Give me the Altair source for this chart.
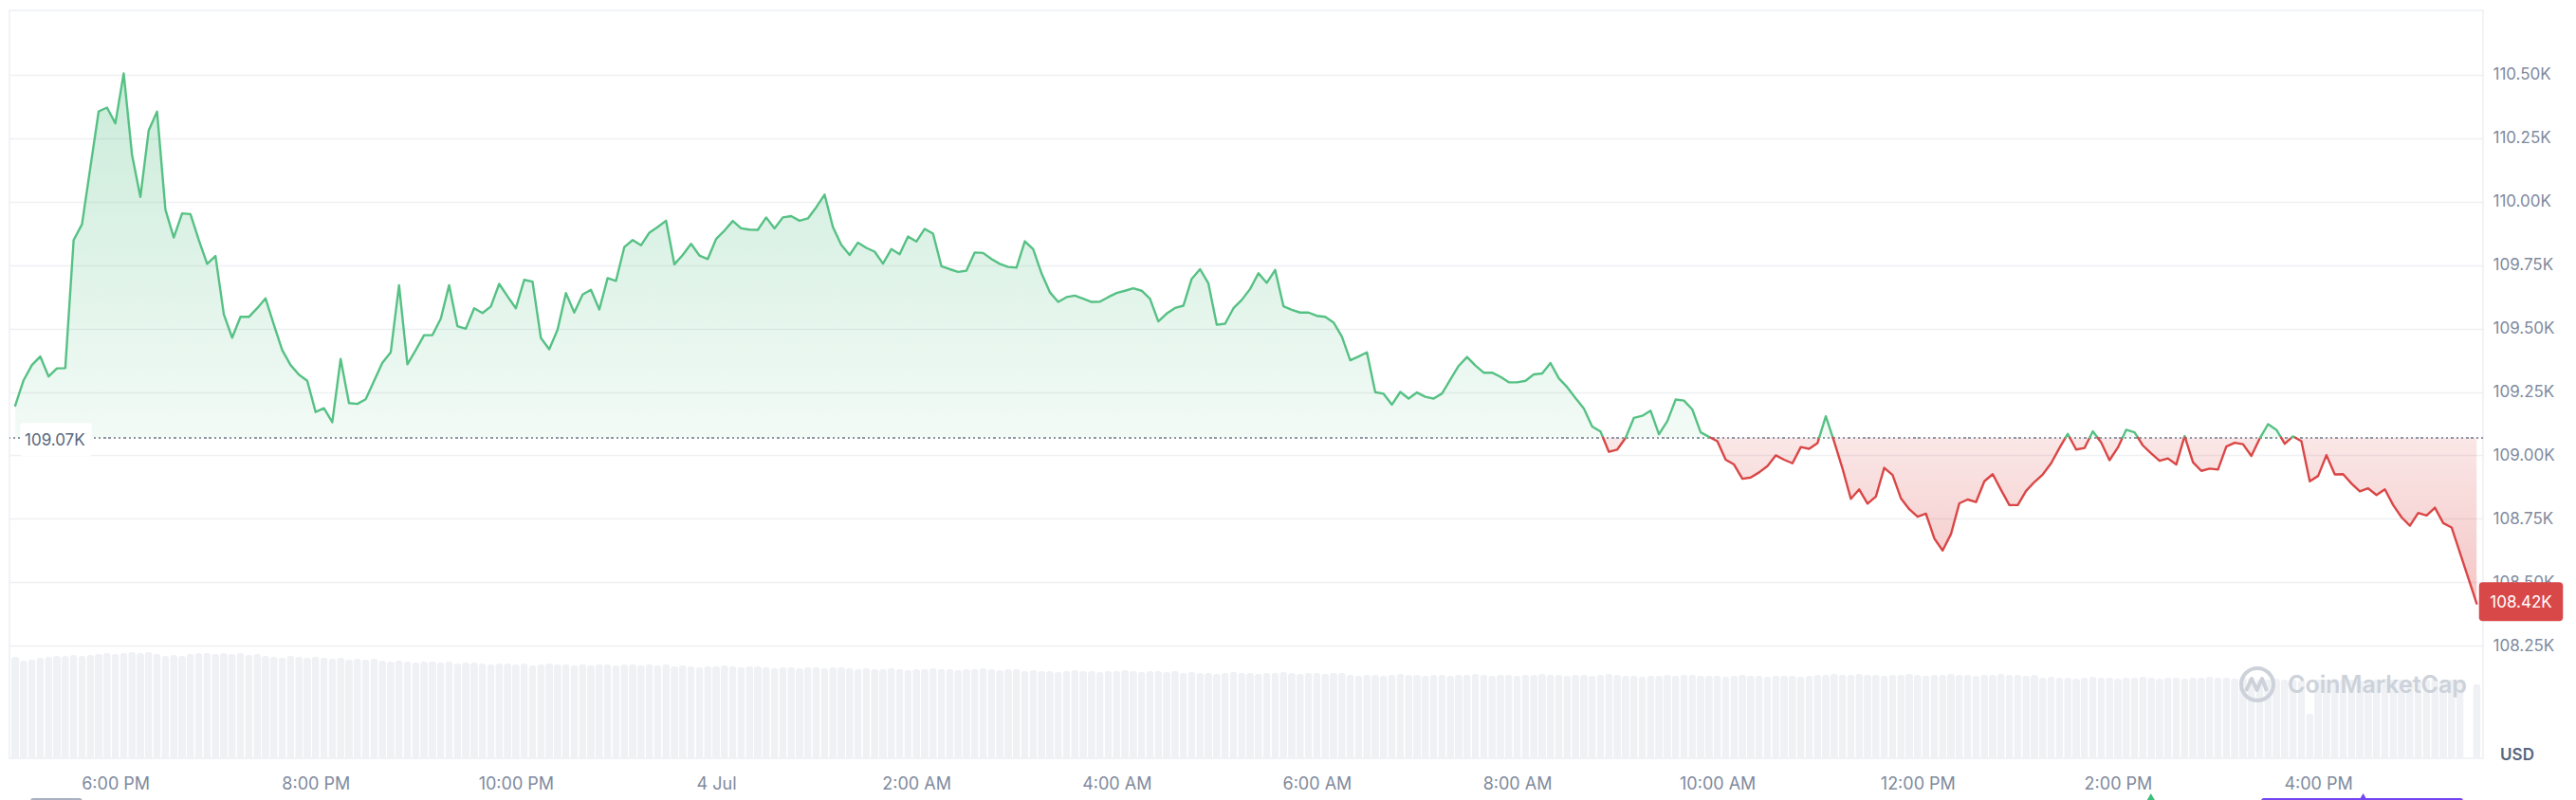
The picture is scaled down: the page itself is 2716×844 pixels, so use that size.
import altair as alt
import pandas as pd

# ---------------- data ----------------
START_HOUR = 17.0          # 5:00 PM, 3 Jul (hours since 3 Jul 00:00)
STEP_MIN = 5               # one sample every 5 minutes
BASELINE_K = 109.07        # reference (open) price, thousands USD
LAST_LABEL = "108.42K"

price_k = [
    109.196, 109.296, 109.356, 109.390, 109.311, 109.343, 109.344, 109.849, 109.911, 110.134,
    110.356, 110.371, 110.309, 110.506, 110.184, 110.019, 110.281, 110.355, 109.969, 109.859,
    109.954, 109.951, 109.849, 109.755, 109.786, 109.556, 109.464, 109.546, 109.546, 109.580,
    109.619, 109.515, 109.415, 109.356, 109.318, 109.294, 109.171, 109.186, 109.131, 109.380,
    109.206, 109.203, 109.221, 109.293, 109.365, 109.406, 109.671, 109.359, 109.415, 109.474,
    109.474, 109.539, 109.671, 109.509, 109.499, 109.580, 109.561, 109.587, 109.676, 109.627,
    109.580, 109.692, 109.685, 109.463, 109.418, 109.496, 109.640, 109.563, 109.634, 109.653,
    109.575, 109.699, 109.688, 109.821, 109.849, 109.828, 109.878, 109.900, 109.925, 109.753,
    109.790, 109.834, 109.788, 109.774, 109.853, 109.886, 109.924, 109.895, 109.890, 109.889,
    109.938, 109.895, 109.938, 109.943, 109.925, 109.934, 109.978, 110.028, 109.900, 109.830,
    109.790, 109.839, 109.818, 109.803, 109.756, 109.813, 109.793, 109.863, 109.843, 109.893,
    109.874, 109.746, 109.734, 109.723, 109.728, 109.800, 109.798, 109.774, 109.755, 109.743,
    109.740, 109.844, 109.813, 109.718, 109.643, 109.605, 109.624, 109.630, 109.618, 109.605,
    109.606, 109.624, 109.640, 109.649, 109.659, 109.649, 109.618, 109.528, 109.559, 109.581,
    109.590, 109.696, 109.734, 109.678, 109.515, 109.519, 109.580, 109.613, 109.656, 109.718,
    109.680, 109.731, 109.588, 109.574, 109.563, 109.563, 109.550, 109.546, 109.524, 109.468,
    109.375, 109.390, 109.406, 109.249, 109.243, 109.200, 109.250, 109.224, 109.248, 109.231,
    109.224, 109.244, 109.299, 109.353, 109.388, 109.354, 109.326, 109.326, 109.310, 109.288,
    109.288, 109.294, 109.319, 109.323, 109.364, 109.304, 109.269, 109.226, 109.185, 109.114,
    109.094, 109.014, 109.023, 109.069, 109.148, 109.156, 109.176, 109.083, 109.135, 109.220,
    109.216, 109.181, 109.091, 109.073, 109.056, 108.983, 108.964, 108.908, 108.913, 108.933,
    108.958, 109.000, 108.983, 108.969, 109.033, 109.026, 109.048, 109.154, 109.054, 108.948,
    108.829, 108.866, 108.810, 108.838, 108.951, 108.923, 108.831, 108.788, 108.758, 108.770,
    108.673, 108.625, 108.690, 108.811, 108.826, 108.816, 108.898, 108.926, 108.864, 108.804,
    108.804, 108.860, 108.895, 108.925, 108.969, 109.029, 109.085, 109.023, 109.029, 109.095,
    109.051, 108.981, 109.031, 109.101, 109.091, 109.039, 109.008, 108.979, 108.988, 108.964,
    109.076, 108.973, 108.939, 108.948, 108.944, 109.035, 109.050, 109.044, 108.998, 109.066,
    109.123, 109.101, 109.046, 109.075, 109.056, 108.898, 108.919, 109.001, 108.925, 108.926,
    108.889, 108.858, 108.870, 108.844, 108.866, 108.804, 108.756, 108.723, 108.773, 108.763,
    108.794, 108.733, 108.716, 108.616, 108.516, 108.416,
]

# volume bars (arbitrary units, drawn on their own scale at the bottom)
volume = [
    10.7, 10.3, 10.4, 10.6, 10.7, 10.8, 10.8, 10.9, 10.8, 10.9,
    11.0, 11.1, 11.0, 11.1, 11.2, 11.1, 11.2, 11.0, 10.8, 10.9,
    10.8, 11.0, 11.1, 11.1, 11.0, 11.1, 11.0, 11.1, 10.9, 11.0,
    10.8, 10.7, 10.6, 10.8, 10.7, 10.6, 10.7, 10.6, 10.5, 10.6,
    10.4, 10.5, 10.4, 10.5, 10.3, 10.2, 10.3, 10.2, 10.1, 10.2,
    10.2, 10.1, 10.2, 10.0, 10.1, 10.1, 10.0, 9.9, 10.0, 10.0,
    9.9, 10.0, 9.8, 9.9, 10.0, 9.9, 9.9, 9.8, 9.9, 9.8,
    9.9, 9.9, 9.8, 9.9, 9.9, 9.8, 9.9, 9.8, 9.9, 9.7,
    9.8, 9.7, 9.6, 9.7, 9.7, 9.8, 9.7, 9.6, 9.7, 9.7,
    9.6, 9.5, 9.6, 9.6, 9.5, 9.6, 9.6, 9.5, 9.6, 9.6,
    9.5, 9.4, 9.5, 9.4, 9.4, 9.5, 9.4, 9.3, 9.4, 9.4,
    9.5, 9.4, 9.4, 9.3, 9.4, 9.4, 9.5, 9.4, 9.3, 9.4,
    9.4, 9.2, 9.3, 9.2, 9.2, 9.1, 9.2, 9.3, 9.2, 9.2,
    9.1, 9.2, 9.2, 9.3, 9.2, 9.1, 9.2, 9.2, 9.1, 9.2,
    9.0, 9.1, 9.0, 9.0, 8.9, 9.0, 9.1, 9.0, 9.0, 8.9,
    9.0, 9.0, 9.1, 9.0, 8.9, 9.0, 9.0, 8.9, 9.0, 9.0,
    8.8, 8.7, 8.8, 8.8, 8.7, 8.8, 8.9, 8.8, 8.8, 8.7,
    8.8, 8.8, 8.7, 8.8, 8.8, 8.9, 8.8, 8.7, 8.8, 8.8,
    8.7, 8.8, 8.8, 8.9, 8.8, 8.8, 8.7, 8.8, 8.8, 8.7,
    8.8, 8.9, 8.8, 8.7, 8.7, 8.6, 8.7, 8.7, 8.8, 8.7,
    8.8, 8.8, 8.7, 8.7, 8.7, 8.6, 8.7, 8.8, 8.7, 8.7,
    8.6, 8.7, 8.7, 8.7, 8.6, 8.7, 8.8, 8.8, 8.9, 8.8,
    8.8, 8.9, 8.8, 8.8, 8.7, 8.8, 8.8, 8.9, 8.8, 8.7,
    8.8, 8.8, 8.9, 8.8, 8.8, 8.7, 8.8, 8.8, 8.9, 8.8,
    8.8, 8.7, 8.8, 8.5, 8.6, 8.5, 8.5, 8.4, 8.5, 8.6,
    8.5, 8.5, 8.4, 8.5, 8.5, 8.6, 8.5, 8.4, 8.5, 8.5,
    8.4, 8.5, 8.5, 8.6, 8.5, 8.5, 8.4, 8.5, 8.5, 8.3,
    8.3, 8.4, 8.3, 8.3, 8.2, 4.7, 8.3, 8.3, 8.4, 8.3,
    8.3, 8.2, 8.3, 8.3, 8.4, 8.3, 8.3, 8.2, 8.3, 8.3,
    8.4, 8.3, 8.3, 8.2, 0.0, 7.8,
]

y_tick_values = [108.25, 108.50, 108.75, 109.00, 109.25, 109.50, 109.75, 110.00, 110.25, 110.50]
x_tick_hours = [18, 20, 22, 24, 26, 28, 30, 32, 34, 36, 38, 40]
x_domain = [16.99, 41.60]
y_domain = [107.806, 110.754]
vol_domain = [0, 78.9]

# event markers peeking in under the time axis (hours since 3 Jul 00:00)
range_bar_start = [17.18, 39.46]
range_bar_end = [17.64, 41.42]
range_bar_color = ["#A9B1C1", "#7445F2"]
event_hours = [38.33, 40.45]
event_color = ["#3DBE7A", "#7445F2"]

assert len(price_k) == len(volume) == 296

# ---------------- styling ----------------
W, H = 2608, 789
FONT = "Inter"
GREEN = "#56C184"
RED = "#DA4646"
LABEL = "#808A9D"
DARK = "#58667E"
GRID = "#EEF0F3"

hours = [START_HOUR + i * STEP_MIN / 60 for i in range(len(price_k))]

# price path with the points where it crosses the reference line
aug = []
for i, (h, p) in enumerate(zip(hours, price_k)):
    if i > 0:
        h0, p0 = hours[i - 1], price_k[i - 1]
        if (p0 - BASELINE_K) * (p - BASELINE_K) < 0:
            t = (BASELINE_K - p0) / (p - p0)
            aug.append((h0 + t * (h - h0), BASELINE_K))
    aug.append((h, p))

area_df = pd.DataFrame({
    "h": [a[0] for a in aug],
    "up": [max(a[1], BASELINE_K) for a in aug],
    "dn": [min(a[1], BASELINE_K) for a in aug],
    "base": [BASELINE_K] * len(aug),
})

rows, run, prev = [], 0, None
for j in range(len(aug) - 1):
    (h0, p0), (h1, p1) = aug[j], aug[j + 1]
    side = "up" if (p0 + p1) / 2 >= BASELINE_K else "down"
    if side != prev:
        run += 1
        rows.append({"h": h0, "p": p0, "run": run, "side": side})
        prev = side
    rows.append({"h": h1, "p": p1, "run": run, "side": side})
line_df = pd.DataFrame(rows)

vol_df = pd.DataFrame({"h": hours, "vol": volume})

x_label_expr = (
    "datum.value == 24 ? '4 Jul' : "
    "(datum.value % 12 == 0 ? 12 : datum.value % 12) + ':00 ' + "
    "(datum.value % 24 < 12 ? 'AM' : 'PM')"
)
X_SCALE = alt.Scale(domain=x_domain, nice=False, zero=False)
X_AXIS = alt.Axis(values=x_tick_hours, labelExpr=x_label_expr, grid=False, ticks=False,
                  domain=False, labelPadding=18, labelFontSize=18, labelColor=LABEL,
                  labelFont=FONT, labelOverlap=False, labelFlush=False, title=None)
Y_SCALE = alt.Scale(domain=y_domain, nice=False, zero=False)
Y_AXIS = alt.Axis(orient="right", values=y_tick_values,
                  labelExpr="format(datum.value, '.2f') + 'K'", grid=True,
                  gridColor=GRID, gridWidth=1.5, ticks=False, domain=False,
                  labelPadding=10, labelFontSize=17, labelColor=LABEL, labelFont=FONT,
                  labelOverlap=False, labelFlush=False, title=None)

def xf(field):
    return alt.X(field, type="quantitative", scale=X_SCALE, axis=X_AXIS)

def yf(field):
    return alt.Y(field, type="quantitative", scale=Y_SCALE, axis=Y_AXIS)

def xd(v):
    return alt.XDatum(v, scale=X_SCALE, axis=X_AXIS)

def yd(v):
    return alt.YDatum(v, scale=Y_SCALE, axis=Y_AXIS)

green_grad = alt.Gradient(gradient="linear", x1=0, x2=0, y1=0, y2=1, stops=[
    alt.GradientStop(color="rgba(80,190,130,0.30)", offset=0),
    alt.GradientStop(color="rgba(80,190,130,0.07)", offset=1)])
red_grad = alt.Gradient(gradient="linear", x1=0, x2=0, y1=0, y2=1, stops=[
    alt.GradientStop(color="rgba(220,70,70,0.13)", offset=0),
    alt.GradientStop(color="rgba(220,70,70,0.31)", offset=1)])

area_up = alt.Chart(area_df).mark_area(color=green_grad, interpolate="linear").encode(
    x=xf("h"), y=yf("up"), y2="base")
area_dn = alt.Chart(area_df).mark_area(color=red_grad, interpolate="linear").encode(
    x=xf("h"), y=yf("dn"), y2="base")

base_rule = alt.Chart(area_df).mark_rule(color="#8E96A3", strokeWidth=1.5,
                                          strokeDash=[1.5, 3.8]).encode(y=yd(BASELINE_K))

lines = alt.Chart(line_df).mark_line(strokeWidth=2.4, strokeJoin="round",
                                      strokeCap="round").encode(
    x=xf("h"), y=yf("p"),
    color=alt.Color("side:N", scale=alt.Scale(domain=["up", "down"], range=[GREEN, RED]),
                    legend=None),
    detail="run:N", order="h:Q")

one = pd.DataFrame({"k": [0]})
BOX = ("M-0.98,-0.5 H0.98 Q1.08,-0.5 1.08,-0.4 V0.4 Q1.08,0.5 0.98,0.5 "
       "H-0.98 Q-1.08,0.5 -1.08,0.4 V-0.4 Q-1.08,-0.5 -0.98,-0.5 Z")

base_box = alt.Chart(one).mark_point(shape=BOX, size=(35 * 2) ** 2, filled=True,
                                     fill="white", opacity=1, strokeWidth=0,
                                     xOffset=44, yOffset=2).encode(
    x=xd(x_domain[0]), y=yd(BASELINE_K))
base_text = alt.Chart(one).mark_text(text=f"{BASELINE_K:.2f}K", font=FONT, fontSize=17,
                                     color=DARK, align="left", baseline="middle",
                                     xOffset=11, yOffset=3).encode(
    x=xd(x_domain[0]), y=yd(BASELINE_K))

last_h, last_p = hours[-1], price_k[-1]
price_box = alt.Chart(one).mark_point(shape=BOX, size=(41 * 2) ** 2, filled=True,
                                      fill="#D94848", opacity=1, strokeWidth=0,
                                      xOffset=45, yOffset=-2).encode(
    x=xd(x_domain[1]), y=yd(last_p))
price_text = alt.Chart(one).mark_text(text=LAST_LABEL, font=FONT, fontSize=17,
                                      color="white", align="center", baseline="middle",
                                      xOffset=45, yOffset=-1).encode(
    x=xd(x_domain[1]), y=yd(last_p))

usd_text = alt.Chart(one).mark_text(text="USD", font=FONT, fontSize=17, fontWeight=600,
                                    color=DARK, align="center", baseline="middle",
                                    xOffset=41, yOffset=-3).encode(
    x=xd(x_domain[1]), y=yd(y_domain[0]))

wm_ring = alt.Chart(one).mark_point(shape="circle", size=34 ** 2, filled=False,
                                    stroke="#CDD2DA", strokeWidth=4, opacity=1,
                                    xOffset=-233, yOffset=-78).encode(
    x=xd(x_domain[1]), y=yd(y_domain[0]))
wm_m = alt.Chart(one).mark_point(shape="M-0.6,0.35 L-0.3,-0.3 L-0.02,0.3 L0.25,-0.3 L0.5,0.35",
                                 size=40 ** 2, filled=False, stroke="#CDD2DA",
                                 strokeWidth=4, opacity=1, strokeJoin="round",
                                 xOffset=-233, yOffset=-78).encode(
    x=xd(x_domain[1]), y=yd(y_domain[0]))
wm_text = alt.Chart(one).mark_text(text="CoinMarketCap", font=FONT, fontSize=25,
                                   fontWeight=600, color="#CDD2DA", align="left",
                                   baseline="middle", xOffset=-201, yOffset=-77).encode(
    x=xd(x_domain[1]), y=yd(y_domain[0]))

# event markers below the time axis (cut by the window edge, as in the reference)
range_df = pd.DataFrame({"h0": range_bar_start, "h1": range_bar_end,
                         "c": range_bar_color, "yb": [y_domain[0]] * 2})
ev_df = pd.DataFrame({"h": event_hours, "c": event_color, "yb": [y_domain[0]] * 2})
range_bars = alt.Chart(range_df).mark_rule(strokeWidth=6, strokeCap="round",
                                           yOffset=45).encode(
    x=xf("h0"), x2="h1", y=yf("yb"), color=alt.Color("c:N", scale=None))
ev_marks = alt.Chart(ev_df).mark_point(shape="triangle-up", filled=True, size=190,
                                       opacity=1, strokeWidth=0, yOffset=43).encode(
    x=xf("h"), y=yf("yb"), color=alt.Color("c:N", scale=None))

price_layers = alt.layer(area_up, area_dn, base_rule, lines, base_box, base_text,
                         wm_ring, wm_m, wm_text, price_box, price_text, usd_text,
                         range_bars, ev_marks)

vol_bars = alt.Chart(vol_df).mark_bar(width=8, color="#EFF1F5", cornerRadiusTopLeft=3,
                                      cornerRadiusTopRight=3).encode(
    x=xf("h"),
    y=alt.Y("vol:Q", scale=alt.Scale(domain=vol_domain, nice=False, zero=True), axis=None))

chart = alt.layer(vol_bars, price_layers).resolve_scale(y="independent").properties(
    width=W, height=H, background="white",
    padding={"left": 1, "top": 3, "right": 5, "bottom": 0},
).configure_view(stroke=GRID, strokeWidth=1.5)

chart.save("out.html", embed_options={"renderer": "svg", "actions": False})
